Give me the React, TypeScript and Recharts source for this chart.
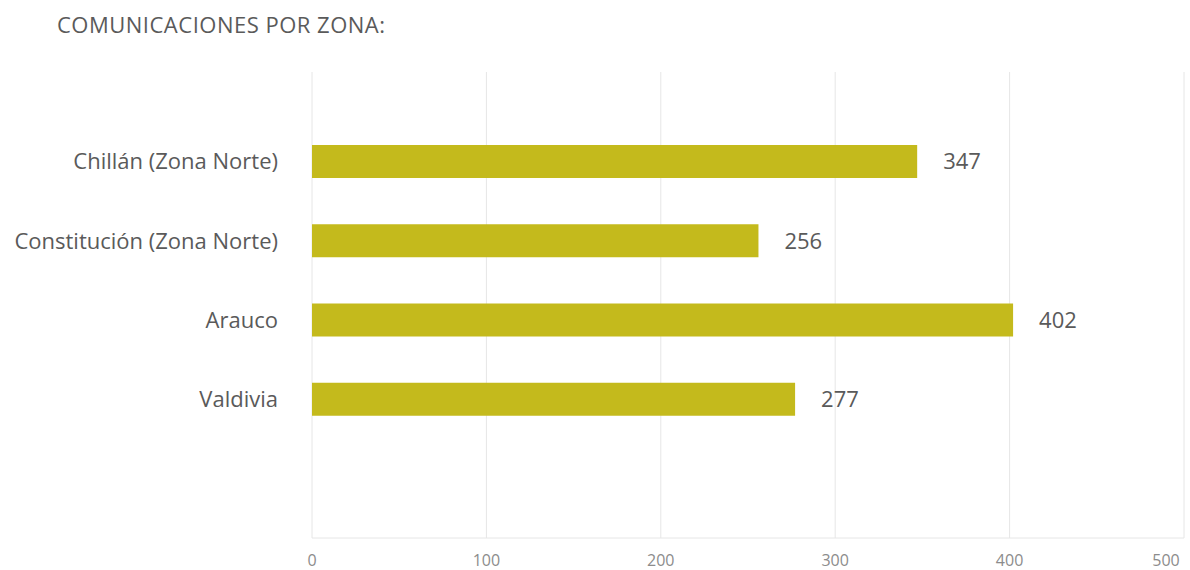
import { BarChart, Bar, XAxis, YAxis, CartesianGrid, LabelList } from "recharts";

const zonas = [
  "Chillán (Zona Norte)",
  "Constitución (Zona Norte)",
  "Arauco",
  "Valdivia",
];
const comunicaciones = [347, 256, 402, 277];
const xTicks = [0, 100, 200, 300, 400, 500];

const data = zonas.map((zona, i) => ({ zona, valor: comunicaciones[i] }));

const FONT = "'Open Sans', 'Noto Sans', sans-serif";

// last label is pulled left so it stays inside the picture
function XTick(props: any) {
  const { x, y, payload } = props;
  const last = payload.value === xTicks[xTicks.length - 1];
  return (
    <text
      x={last ? x - 12 : x}
      y={y}
      dy="0.71em"
      textAnchor="middle"
      fill="#8c8c8c"
      fontSize={16}
      fontFamily={FONT}
    >
      {payload.value}
    </text>
  );
}

export default function App() {
  return (
    <div style={{ position: "absolute", left: 0, top: 0, width: 1190, height: 570, background: "#fff" }}>
      <div
        style={{
          position: "absolute",
          left: 57,
          top: 9,
          fontFamily: FONT,
          fontSize: 22,
          color: "#5a5a5a",
          letterSpacing: 0.5,
          whiteSpace: "nowrap",
        }}
      >
        COMUNICACIONES POR ZONA:
      </div>
      <BarChart
        width={1190}
        height={570}
        data={data}
        layout="vertical"
        margin={{ top: 72, right: 6, bottom: 0, left: 0 }}
      >
        <CartesianGrid horizontal={false} stroke="#e6e6e6" />
        <XAxis
          type="number"
          domain={[0, 500]}
          ticks={xTicks}
          height={32}
          axisLine={{ stroke: "#e6e6e6" }}
          tickLine={false}
          tickSize={0}
          tickMargin={17}
          tick={<XTick />}
        />
        <YAxis
          type="category"
          dataKey="zona"
          width={312}
          axisLine={false}
          tickLine={false}
          tickSize={0}
          tickMargin={34}
          padding={{ top: 50, bottom: 99 }}
          tick={{ fill: "#5a5a5a", fontSize: 22, fontFamily: FONT }}
        />
        <Bar dataKey="valor" fill="#C4BA1C" barSize={33} isAnimationActive={false}>
          <LabelList
            dataKey="valor"
            position="right"
            offset={26}
            fill="#5a5a5a"
            fontSize={22}
            fontFamily={FONT}
          />
        </Bar>
      </BarChart>
    </div>
  );
}
